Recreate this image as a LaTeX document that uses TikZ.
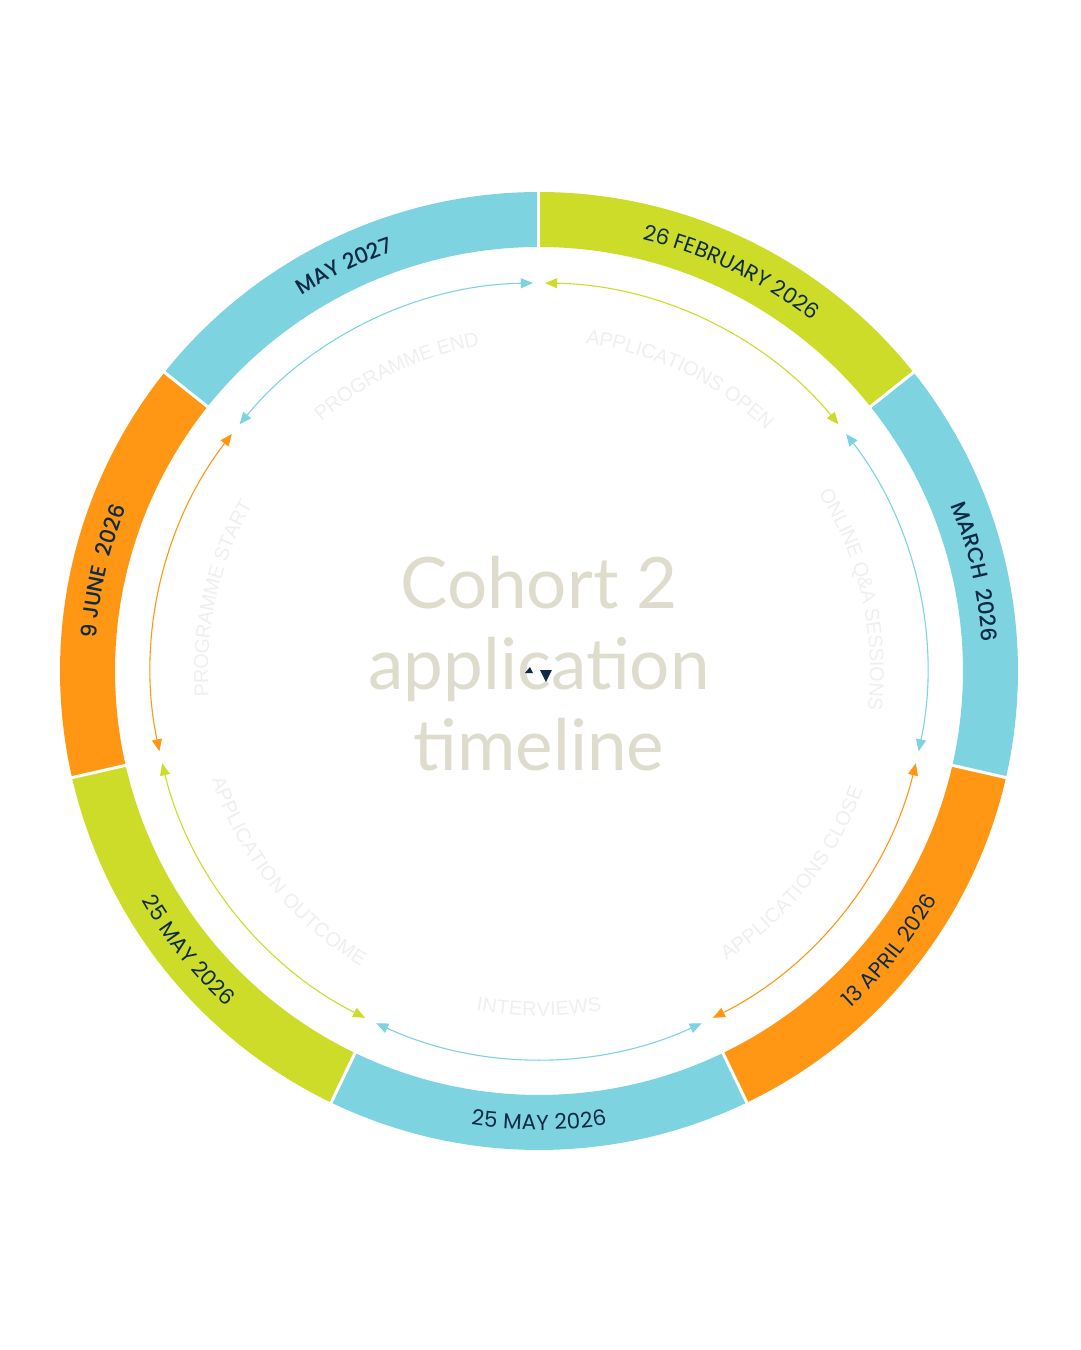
\documentclass[tikz,border=0pt]{standalone}
\usepackage{fontspec}
\setmainfont{Poppins}
\newfontfamily\titlefont{Lato}
\newfontfamily\stepfont{Liberation Sans}
\newfontfamily\datefont{Poppins}
\IfFontExistsTF{Poppins Medium}{\newfontfamily\datebold{Poppins Medium}}{\newfontfamily\datebold[FakeBold=1.2]{Poppins}}
\usetikzlibrary{arrows.meta, decorations.text}
\definecolor{ringgreen}{HTML}{CDDC29}
\definecolor{ringblue}{HTML}{7DD3E0}
\definecolor{ringorange}{HTML}{FF9714}
\definecolor{navy}{HTML}{0D2B45}
\definecolor{beige}{HTML}{DEDCCD}
\definecolor{faint}{HTML}{EFEFEF}
\begin{document}
\begin{tikzpicture}[x=1pt, y=1pt, >={Triangle[length=12pt, width=10pt]},
    datetext/.style={decorate, decoration={text along path, text align=center, raise=-7.5pt, text color=navy}},
    steptext/.style={decorate, decoration={text along path, text align=center, raise=-7pt, text color=faint}},
    ]
    \useasboundingbox (-539,-679) rectangle (541,671);
    \coordinate (c) at (0,0);
    \foreach \n/\col/\s/\dfont/\dtext/\stext in {
        1/ringgreen/1/\datefont/26 FEBRUARY 2026/APPLICATIONS OPEN,
        2/ringblue/1/\datebold/MARCH {\ }2026/ONLINE Q{\&}A SESSIONS,
        3/ringorange/-1/\datefont/13 APRIL 2026/APPLICATIONS CLOSE,
        4/ringblue/-1/\datefont/25 MAY 2026/INTERVIEWS,
        5/ringgreen/-1/\datefont/25 MAY 2026/APPLICATION OUTCOME,
        6/ringorange/1/\datebold/9 JUNE {\ }2026/PROGRAMME START,
        7/ringblue/1/\datebold/MAY 2027/PROGRAMME END}
    {
        \pgfmathsetmacro\a{90-(\n-0.5)*360/7}
        \pgfmathsetmacro\p{\a+25*\s}
        \pgfmathsetmacro\q{\a-25*\s}
        \fill[\col] (\a+25.714:479) arc[start angle=\a+25.714, end angle=\a-25.714, radius=479]
            -- (\a-25.714:424) arc[start angle=\a-25.714, end angle=\a+25.714, radius=424] -- cycle;
        \draw[\col, line width=1.1pt, <->] (\a+24.8:388) arc[start angle=\a+24.8, end angle=\a-24.8, radius=388];
        \path[datetext, decoration={text/.expanded={|\noexpand\fontsize{21.5}{24}\noexpand\dfont|\dtext}}]
            (\p:451.5) arc[start angle=\p, end angle=\q, radius=451.5];
        \path[steptext, decoration={text/.expanded={|\noexpand\fontsize{20}{24}\noexpand\stepfont|\stext}}]
            (\p:338) arc[start angle=\p, end angle=\q, radius=338];
    }
    \foreach \k in {0,...,6}
        \draw[white, line width=3pt] (90-\k*360/7:420) -- (90-\k*360/7:483);
    \node[font={\titlefont\fontsize{71}{81}\selectfont}, text=beige, align=center] (title) at (0,7) {Cohort 2\\application\\timeline};
    \fill[navy] (1,1) -- (13,1) -- (7,-11) -- cycle;
    \fill[navy] (-14,-2) -- (-6,-2) -- (-9,4) -- cycle;
\end{tikzpicture}
\end{document}
